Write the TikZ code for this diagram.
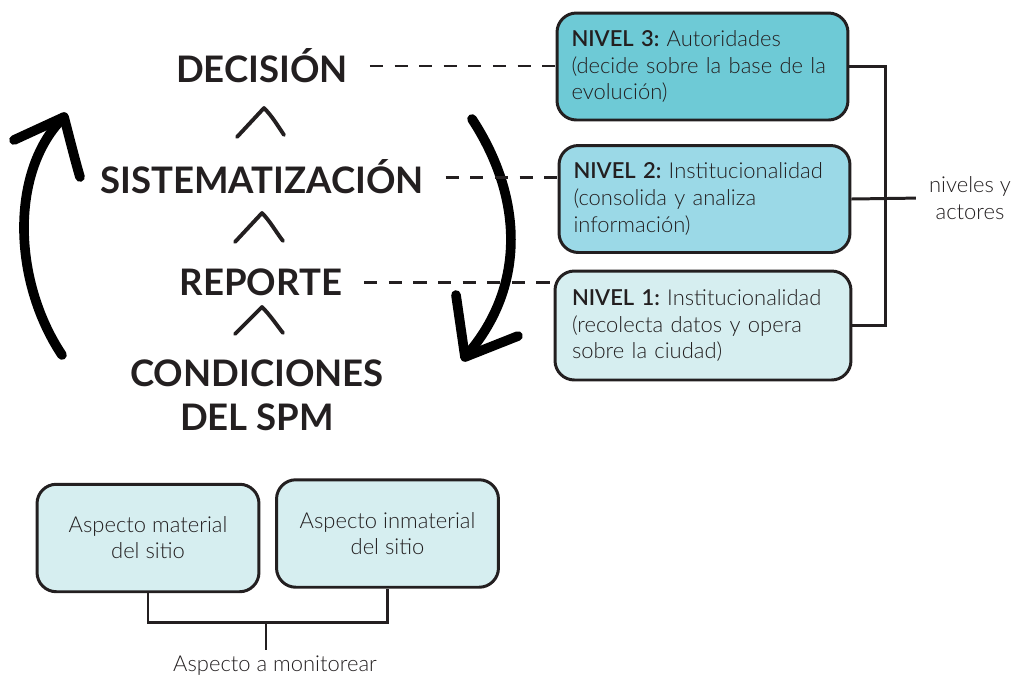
\documentclass[tikz,border=0pt]{standalone}
\usepackage{fontspec}
\setmainfont{Lato}
\newfontfamily\fina{Lato Light}
\usepackage{tikz}
\frenchspacing

\definecolor{tinta}{HTML}{231F20}
\definecolor{nivtres}{HTML}{6ECAD6}
\definecolor{nivdos}{HTML}{9BD9E7}
\definecolor{nivuno}{HTML}{D6EEF0}

\tikzset{
  etapa/.style={font=\bfseries\fontsize{20.8}{25}\selectfont, text=tinta, align=center},
  texto/.style={font=\fina\fontsize{12.5}{15.3}\selectfont, text=tinta, align=center},
  caja/.style={draw=tinta, line width=1.7pt, rounded corners=11pt, text=tinta,
    font=\fina\fontsize{12.5}{15.3}\selectfont},
  nivel/.style={caja, minimum width=5.82cm, minimum height=2.14cm,
    text width=5.24cm, inner xsep=0.29cm, align=left},
  aspecto/.style={caja, fill=nivuno, minimum width=4.44cm, minimum height=2.15cm, align=center,
    font=\fina\fontsize{12.5}{14.8}\selectfont},
  linea/.style={draw=tinta, line width=1.7pt},
  rayas/.style={draw=tinta, line width=1.7pt, dash pattern=on 7.5pt off 6.5pt, shorten <=9pt},
  trazo/.style={draw=tinta, line width=2.2pt, line cap=round, line join=round},
  flecha/.style={draw=black, line width=5.5pt, line cap=round, line join=round}
}

\begin{document}
\begin{tikzpicture}[x=0.02cm,y=-0.02cm]
  \useasboundingbox (0,0) rectangle (1015,677);
  % etapas
  \node[etapa] (dec) at (262,66) {DECISIÓN};
  \node[etapa] (sis) at (262,177) {SISTEMATIZACIÓN};
  \node[etapa] (rep) at (261,282) {REPORTE};
  \node[etapa] (con) at (257,395) {CONDICIONES\\DEL SPM};
  \draw[trazo] (237,137) -- (264,108) .. controls (272,116) and (278,126) .. (284,135);
  \draw[trazo] (235,242) -- (262,213) .. controls (270,221) and (276,232) .. (283,241);
  \draw[trazo] (235,334) -- (262,307) .. controls (270,315) and (276,324) .. (283,333);
  % flechas del ciclo
  \draw[flecha] (62,355) .. controls (12,280) and (10,170) .. (64,117);
  \draw[flecha] (14,140) -- (64,117) .. controls (70,140) and (75,160) .. (80,177);
  \draw[flecha] (472,119) .. controls (525,200) and (525,290) .. (465,357);
  \draw[flecha] (456,295) -- (465,357) -- (518,336);
  % niveles
  \node[nivel, fill=nivtres] (n3) at (702.5,66.5)
    {\textbf{NIVEL 3:} Autoridades\\(decide sobre la base de la\\evolución)};
  \node[nivel, fill=nivdos] (n2) at (704.5,199)
    {\textbf{NIVEL 2:} Institucionalidad\\(consolida y analiza\\información)};
  \node[nivel, fill=nivuno, minimum width=5.92cm, minimum height=2.18cm] (n1) at (703,325.5)
    {\textbf{NIVEL 1:} Institucionalidad\\(recolecta datos y opera\\sobre la ciudad)};
  \draw[rayas] (dec.east) -- (dec.east -| n3.west);
  \draw[rayas] (sis.east) -- (sis.east -| n2.west);
  \draw[rayas] (rep.east) -- (rep.east -| n1.west);
  \node[texto] (act) at (970,198) {niveles y\\actores};
  \coordinate (junta) at (885,199);
  \draw[linea] (n3.east) -| (junta) |- (n1.east);
  \draw[linea, shorten >=4pt] (n2.east) -- (act.west);
  % aspectos
  \node[aspecto] (m1) at (148,538) {Aspecto material\\del sitio};
  \node[aspecto] (m2) at (387.5,533.5) {Aspecto inmaterial\\del sitio};
  \node[texto] (mon) at (275,666) {Aspecto a monitorear};
  \coordinate (union) at (266,622);
  \draw[linea] (m1.south) |- (union) -| (m2.south);
  \draw[linea] (union) -- (union |- mon.north);
\end{tikzpicture}
\end{document}
